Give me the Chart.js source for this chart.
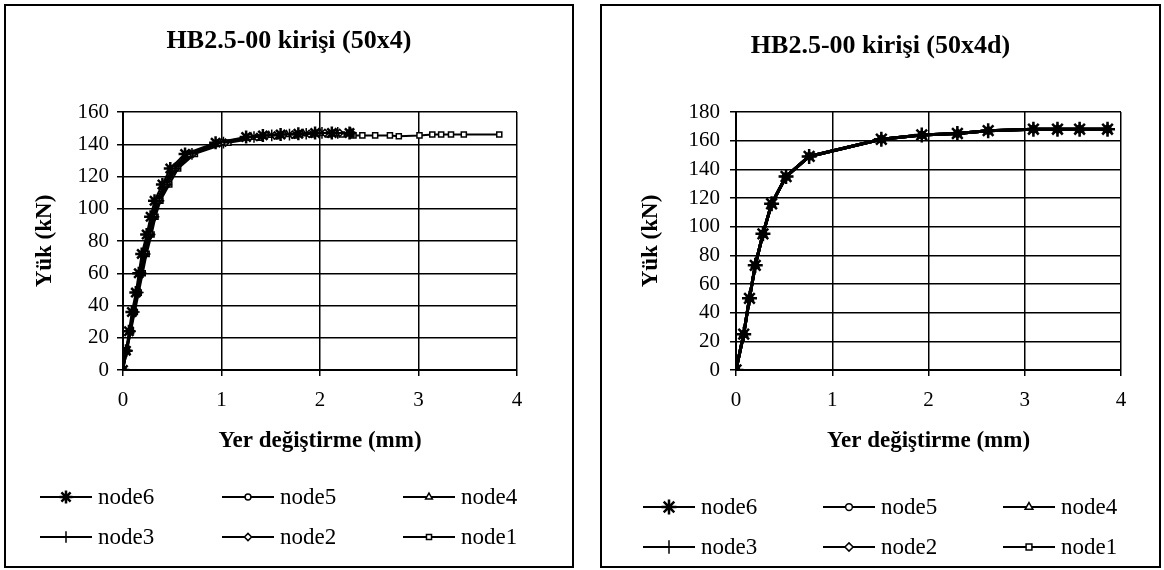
<!DOCTYPE html>
<html>
<head>
<meta charset="utf-8">
<script src="https://cdn.jsdelivr.net/npm/chart.js@4/dist/chart.umd.min.js"></script>
<style>
    body { margin: 0; background: #fff; width: 1164px; height: 570px; position: relative; overflow: hidden; font-family: "Liberation Serif", serif; }
    .box { position: absolute; top: 4px; height: 560px; border: 2px solid #000; background: transparent; }
    .box canvas { display: block; }
    #boxLeft { left: 4px; width: 566px; }
    #boxRight { left: 600px; width: 557px; }
</style>
</head>
<body>
<div class="box" id="boxLeft"><canvas id="leftChart" width="566" height="560"></canvas></div>
<div class="box" id="boxRight"><canvas id="rightChart" width="557" height="560"></canvas></div>
<script>
// Sol grafik (50x4) - yük değerleri (kN)
const leftLoad = [0, 12, 24, 36, 48, 60, 72, 84, 95, 105, 115, 125, 134, 141, 144.5, 145.5, 146, 146.5, 147, 147, 147];
const leftNode6 = [0, 0.03, 0.06, 0.09, 0.13, 0.16, 0.19, 0.24, 0.28, 0.32, 0.40, 0.48, 0.63, 0.94, 1.25, 1.42, 1.60, 1.78, 1.95, 2.12, 2.30];
const leftNode5 = [0, 0.03, 0.07, 0.10, 0.14, 0.17, 0.20, 0.25, 0.29, 0.34, 0.42, 0.50, 0.66, 0.97, 1.28, 1.45, 1.63, 1.80, 1.97, 2.14, 2.30];
const leftNode4 = [0, 0.03, 0.07, 0.10, 0.14, 0.17, 0.21, 0.26, 0.30, 0.35, 0.43, 0.52, 0.68, 1.00, 1.30, 1.48, 1.66, 1.83, 2.00, 2.16, 2.31];
const leftNode3 = [0, 0.04, 0.07, 0.11, 0.15, 0.18, 0.22, 0.27, 0.31, 0.36, 0.44, 0.53, 0.70, 1.02, 1.33, 1.51, 1.69, 1.86, 2.02, 2.18, 2.31];
const leftNode2 = [0, 0.04, 0.08, 0.11, 0.15, 0.19, 0.23, 0.28, 0.32, 0.37, 0.45, 0.54, 0.71, 1.04, 1.36, 1.54, 1.72, 1.89, 2.05, 2.20, 2.32];
// node1 daha uzun devam ediyor
const leftLoad1 = [0, 12, 24, 36, 48, 60, 72, 84, 95, 105, 115, 125, 134, 141, 144, 145, 145.5, 146, 146, 146, 145.5, 145.5, 145.5, 145.5, 145, 145.5, 146, 146, 146, 146];
const leftNode1 = [0, 0.04, 0.08, 0.12, 0.16, 0.20, 0.24, 0.29, 0.33, 0.38, 0.47, 0.56, 0.73, 1.07, 1.38, 1.56, 1.74, 1.92, 2.08, 2.22, 2.34, 2.43, 2.56, 2.71, 2.80, 3.01, 3.14, 3.23, 3.33, 3.46];
const leftNode1End = [3.82, 146];

// Sağ grafik (50x4d) - bütün node'lar üst üste
const rightDisp = [0, 0.08, 0.14, 0.20, 0.28, 0.37, 0.52, 0.76, 1.51, 1.93, 2.30, 2.62, 3.09, 3.34, 3.57, 3.86];
const rightLoad = [0, 25, 50, 73, 95, 116, 135, 149, 161, 164, 165, 167, 168, 168, 168, 168];

const xTicks = [0, 1, 2, 3, 4];
const leftYTicks = [0, 20, 40, 60, 80, 100, 120, 140, 160];
const rightYTicks = [0, 20, 40, 60, 80, 100, 120, 140, 160, 180];
const nodeNames = ['node6', 'node5', 'node4', 'node3', 'node2', 'node1'];
const fontFamily = '"Liberation Serif", serif';

Chart.defaults.font.family = fontFamily;
Chart.defaults.color = '#000';

function pts(xs, ys) {
    return xs.map((x, i) => ({ x: x, y: ys[i] }));
}

// marker styles, same order as nodeNames
const markerStyles = [
    { pointStyle: 'star', r: 1 },
    { pointStyle: 'circle', r: 0.45 },
    { pointStyle: 'triangle', r: 0.6 },
    { pointStyle: 'cross', r: 0.9 },
    { pointStyle: 'rectRot', r: 0.55 },
    { pointStyle: 'rect', r: 0.55 }
];

function makeDataset(i, data, lineW, markerR) {
    const m = markerStyles[i];
    return {
        label: nodeNames[i],
        data: data,
        showLine: true,
        borderColor: '#000',
        borderWidth: lineW,
        pointStyle: m.pointStyle,
        pointRadius: markerR * m.r,
        pointBorderWidth: m.pointStyle === 'star' ? 2.5 : 1.5,
        pointBorderColor: '#000',
        pointBackgroundColor: '#fff',
        tension: 0
    };
}

// Başlık ve lejant çizimi
const boxText = {
    id: 'boxText',
    afterDraw(chart, args, opts) {
        const ctx = chart.ctx;
        ctx.save();
        ctx.fillStyle = '#000';
        ctx.font = 'bold 26px "Liberation Serif", serif';
        ctx.textAlign = 'center';
        ctx.textBaseline = 'middle';
        ctx.fillText(opts.title, chart.width / 2, opts.titleY);

        ctx.textAlign = 'left';
        chart.data.datasets.forEach((ds, i) => {
            const x = opts.legendX[i % 3];
            const y = opts.legendY[Math.floor(i / 3)];
            ctx.strokeStyle = '#000';
            ctx.lineWidth = 2;
            ctx.beginPath();
            ctx.moveTo(x, y);
            ctx.lineTo(x + 52, y);
            ctx.stroke();
            ctx.fillStyle = '#fff';
            ctx.lineWidth = ds.pointBorderWidth;
            Chart.helpers.drawPoint(ctx, {
                pointStyle: ds.pointStyle,
                radius: ds.pointRadius,
                borderWidth: ds.pointBorderWidth,
                rotation: 0
            }, x + 26, y);
            ctx.fillStyle = '#000';
            ctx.font = 'normal 23px "Liberation Serif", serif';
            ctx.fillText(ds.label, x + 58, y + 1);
        });
        ctx.restore();
    }
};

function makeOptions(cfg) {
    return {
        responsive: false,
        animation: false,
        layout: { padding: cfg.padding },
        plugins: {
            legend: { display: false },
            tooltip: { enabled: false },
            boxText: cfg.text
        },
        scales: {
            x: {
                type: 'linear',
                min: 0, max: 4,
                afterBuildTicks: (s) => { s.ticks = xTicks.map(v => ({ value: v })); },
                afterFit: (s) => { s.height = 90; },
                grid: { color: '#000', lineWidth: 1.5, tickLength: 6, tickColor: '#000' },
                border: { color: '#000', width: 2 },
                ticks: { font: { size: 21 }, padding: 12, maxRotation: 0 },
                title: {
                    display: true,
                    text: 'Yer değiştirme (mm)',
                    font: { size: 23, weight: 'bold' },
                    padding: { top: 0, bottom: 5 }
                }
            },
            y: {
                min: 0, max: cfg.yMax,
                afterBuildTicks: (s) => { s.ticks = cfg.yTicks.map(v => ({ value: v })); },
                afterFit: (s) => { s.width = cfg.yWidth; },
                grid: { color: '#000', lineWidth: 1.5, tickLength: 6, tickColor: '#000' },
                border: { color: '#000', width: 2 },
                ticks: { font: { size: 21 }, padding: cfg.yTickPad },
                title: {
                    display: true,
                    text: 'Yük (kN)',
                    font: { size: 23, weight: 'bold' },
                    padding: { top: cfg.yTitlePad, bottom: 0 }
                }
            }
        }
    };
}

// Sol grafik
const leftSets = [
    pts(leftNode6, leftLoad),
    pts(leftNode5, leftLoad),
    pts(leftNode4, leftLoad),
    pts(leftNode3, leftLoad),
    pts(leftNode2, leftLoad),
    pts(leftNode1, leftLoad1).concat([{ x: leftNode1End[0], y: leftNode1End[1] }])
];
new Chart(document.getElementById('leftChart'), {
    type: 'scatter',
    data: { datasets: leftSets.map((d, i) => makeDataset(i, d, 2, 6.5)) },
    options: makeOptions({
        padding: { left: 20, right: 55, top: 106, bottom: 106 },
        yMax: 160, yTicks: leftYTicks, yWidth: 97, yTickPad: 8, yTitlePad: 5,
        text: { title: 'HB2.5-00 kirişi (50x4)', titleY: 35, legendX: [34, 216, 397], legendY: [491, 531] }
    }),
    plugins: [boxText]
});

// Sağ grafik
new Chart(document.getElementById('rightChart'), {
    type: 'scatter',
    data: { datasets: nodeNames.map((n, i) => makeDataset(i, pts(rightDisp, rightLoad), 3, 7.5)) },
    options: makeOptions({
        padding: { left: 30, right: 38, top: 106, bottom: 106 },
        yMax: 180, yTicks: rightYTicks, yWidth: 104, yTickPad: 10, yTitlePad: 5,
        text: { title: 'HB2.5-00 kirişi (50x4d)', titleY: 40, legendX: [41, 221, 401], legendY: [501, 541] }
    }),
    plugins: [boxText]
});
</script>
</body>
</html>
